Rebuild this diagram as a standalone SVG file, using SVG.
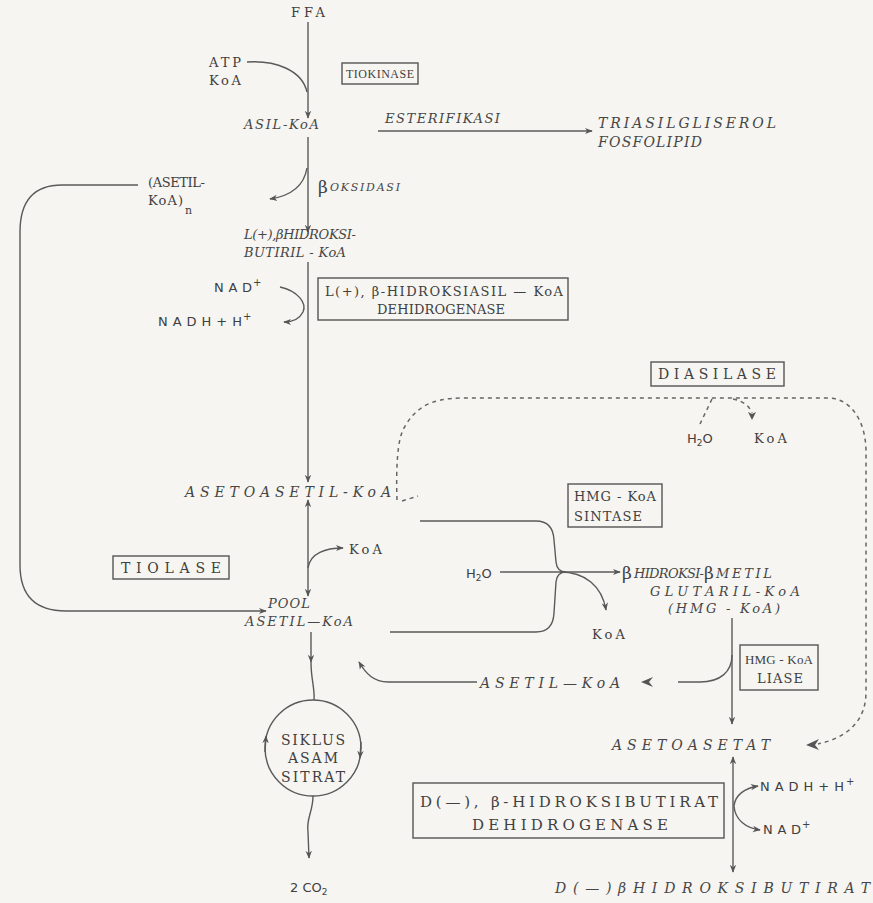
<svg xmlns="http://www.w3.org/2000/svg" width="873" height="903" viewBox="0 0 873 903">
<style>
.t{font-family:"DejaVu Serif","Liberation Serif",serif;font-size:13px;fill:#404040}
.i{font-family:"DejaVu Serif","Liberation Serif",serif;font-size:14px;font-style:italic;fill:#464646}
.s{font-family:"DejaVu Sans","Liberation Sans",sans-serif;font-size:13px;fill:#404040}
.box{fill:none;stroke:#555;stroke-width:1.4}
.ln{fill:none;stroke:#5a5a5a;stroke-width:1.4}
.ar{marker-end:url(#ah)}
.dash{fill:none;stroke:#666;stroke-width:1.5;stroke-dasharray:4 4}
</style>
<defs>
<marker id="ah" viewBox="0 0 10 10" refX="9" refY="5" markerWidth="8" markerHeight="8" orient="auto-start-reverse" markerUnits="userSpaceOnUse">
<path d="M0,1 L10,5 L0,9 L3,5 Z" fill="#555"/>
</marker>
</defs>
<rect width="873" height="903" fill="#f6f5f1"/>

<g id="connectors">
<line class="ln ar" x1="308" y1="22" x2="308" y2="118"/>
<path class="ln" d="M247,62 C275,60 302,70 307,92"/>
<line class="ln ar" x1="378" y1="131" x2="592" y2="131"/>
<line class="ln ar" x1="308" y1="137" x2="308" y2="232"/>
<path class="ln ar" d="M307,168 C304,186 290,196 270,199"/>
<line class="ln ar" x1="308" y1="262" x2="308" y2="482"/>
<path class="ln ar" d="M280,287 C298,291 307,303 303,312 C299,320 292,322 284,322"/>
<path class="ln ar" d="M138,185 L62,185 Q20,185 20,232 L20,565 Q20,611 66,611 L266,611"/>
<line class="ln" x1="308" y1="500" x2="308" y2="596" marker-start="url(#ah)" marker-end="url(#ah)"/>
<path class="ln ar" d="M308,568 C310,553 326,548 343,548"/>
<path class="ln" d="M420,521 L536,521 Q553,521 554,540 L556,562 Q557,572 566,572"/>
<path class="ln" d="M390,632 L536,632 Q553,632 554,613 L556,582 Q557,572 566,572"/>
<line class="ln ar" x1="500" y1="572" x2="620" y2="572"/>
<path class="ln ar" d="M560,572 C585,572 602,586 606,610"/>
<line class="ln ar" x1="732" y1="618" x2="732" y2="724"/>
<path class="ln" d="M732,655 C732,672 720,682 700,682 L678,682"/>
<path d="M653,677 L641,682 L653,687 L649,682 Z" fill="#555"/>
<path class="ln ar" d="M477,682 L388,682 C374,682 366,674 359,662"/>
<line class="ln" x1="733" y1="757" x2="733" y2="872" marker-start="url(#ah)" marker-end="url(#ah)"/>
<path class="ln ar" d="M734,806 C735,795 745,788 758,786"/>
<path class="ln ar" d="M734,806 C735,820 746,828 760,830"/>
<line class="ln ar" x1="311" y1="632" x2="311" y2="662"/>
<path class="ln" d="M311,662 C311,680 315,688 314,700"/>
<circle class="ln" cx="313" cy="748" r="48"/>
<path class="ln ar" d="M265,752 L266,736"/>
<path class="ln ar" d="M361,742 L360,758"/>
<path class="ln ar" d="M313,796 C313,812 306,818 308,832 L309,858"/>
<path class="dash" d="M397,500 C396,470 397,440 404,428 C414,410 428,398 462,398 L828,398 C850,398 866,420 866,452 L866,692 C866,722 846,738 818,744"/>
<path d="M819,739 L806,745 L819,750 L815,745 Z" fill="#555"/>
<path class="dash" d="M712,399 L700,424"/>
<path class="dash" d="M733,399 C744,401 750,407 752,413"/>
<path d="M748,412 L752,420 L756,412 L752,414 Z" fill="#555"/>
<path class="dash" d="M402,501 L418,496"/>
</g>

<g id="ffa"><text class="t" x="291" y="17" textLength="34">FFA</text></g>
<g id="atp"><text class="t" x="209" y="67" textLength="32">ATP</text><text class="t" x="209" y="85" textLength="32">KoA</text></g>
<g id="tiokinase"><rect class="box" x="342" y="63" width="76" height="21"/><text class="t" x="346" y="78" style="font-size:12px;font-family:'Liberation Serif',serif" textLength="68">TIOKINASE</text></g>
<g id="asilkoa"><text class="i" x="244" y="129" style="font-size:13px" textLength="75">ASIL-KoA</text></g>
<g id="esterifikasi"><text class="i" x="385" y="123" style="font-size:13px" textLength="115">ESTERIFIKASI</text></g>
<g id="triasil"><text class="i" x="598" y="128" textLength="178">TRIASILGLISEROL</text><text class="i" x="598" y="147" textLength="104">FOSFOLIPID</text></g>
<g id="asetilkoan"><text class="t" x="148" y="187" textLength="57">(ASETIL-</text><text class="t" x="148" y="205" textLength="35">KoA)</text><text class="t" x="185" y="214" style="font-size:11px">n</text></g>
<g id="boksidasi"><text class="t" x="318" y="193" style="font-size:17px">β</text><text class="i" x="330" y="191" style="font-size:11px" textLength="70">OKSIDASI</text></g>
<g id="hidroksibutiril"><text class="i" x="244" y="239" style="font-size:13px" textLength="112">L(+),βHIDROKSI-</text><text class="i" x="244" y="257" style="font-size:13px" textLength="102">BUTIRIL - KoA</text></g>
<g id="nad1"><text class="s" x="214" y="292" textLength="38">NAD</text><text class="s" x="253" y="286" style="font-size:10px">+</text><text class="s" x="158" y="326" textLength="84">NADH+H</text><text class="s" x="243" y="320" style="font-size:10px">+</text></g>
<g id="dehidrogenase1"><rect class="box" x="318" y="278" width="250" height="42"/><text class="t" x="325" y="296" textLength="238">L(+), β-HIDROKSIASIL — KoA</text><text class="t" x="377" y="314" textLength="128">DEHIDROGENASE</text></g>
<g id="diasilase"><rect class="box" x="651" y="362" width="133" height="24"/><text class="t" x="658" y="379" style="font-size:14px" textLength="118">DIASILASE</text><text class="s" x="687" y="443">H<tspan dy="3" style="font-size:9px">2</tspan><tspan dy="-3">O</tspan></text><text class="t" x="754" y="443" textLength="33">KoA</text></g>
<g id="asetoasetilkoa"><text class="i" x="185" y="497" textLength="206">ASETOASETIL-KoA</text></g>
<g id="koa1"><text class="t" x="349" y="554" textLength="33">KoA</text></g>
<g id="tiolase"><rect class="box" x="113" y="556" width="116" height="23"/><text class="t" x="121" y="573" style="font-size:14px" textLength="100">TIOLASE</text></g>
<g id="hmgsintase"><rect class="box" x="568" y="484" width="94" height="43"/><text class="t" x="574" y="501" textLength="82">HMG - KoA</text><text class="t" x="574" y="521" textLength="68">SINTASE</text></g>
<g id="h2o2"><text class="s" x="466" y="578">H<tspan dy="3" style="font-size:9px">2</tspan><tspan dy="-3">O</tspan></text></g>
<g id="hmgkoa"><text class="t" x="622" y="579" style="font-size:17px">β</text><text class="i" x="634" y="578" style="font-size:13px" textLength="70">HIDROKSI-</text><text class="t" x="704" y="579" style="font-size:17px">β</text><text class="i" x="716" y="578" style="font-size:13px" textLength="56">METIL</text><text class="i" x="650" y="596" style="font-size:13px" textLength="150">GLUTARIL-KoA</text><text class="i" x="668" y="613" style="font-size:13px" textLength="112">(HMG - KoA)</text></g>
<g id="koa2"><text class="t" x="592" y="639" textLength="33">KoA</text></g>
<g id="pool"><text class="i" x="268" y="608" style="font-size:13px" textLength="42">POOL</text><text class="i" x="245" y="626" style="font-size:13px" textLength="108">ASETIL—KoA</text></g>
<g id="hmgliase"><rect class="box" x="740" y="645" width="78" height="45"/><text class="t" x="745" y="664" style="font-family:'Liberation Serif',serif" textLength="68">HMG - KoA</text><text class="t" x="757" y="683" textLength="46">LIASE</text></g>
<g id="asetilkoa2"><text class="i" x="480" y="688" textLength="140">ASETIL—KoA</text></g>
<g id="asetoasetat"><text class="i" x="612" y="750" textLength="158">ASETOASETAT</text></g>
<g id="nad2"><text class="s" x="760" y="791" textLength="84">NADH+H</text><text class="s" x="846" y="785" style="font-size:10px">+</text><text class="s" x="763" y="834" textLength="38">NAD</text><text class="s" x="802" y="828" style="font-size:10px">+</text></g>
<g id="dehidrogenase2"><rect class="box" x="413" y="783" width="311" height="55"/><text class="t" x="420" y="807" style="font-size:15px" textLength="298">D(—), β-HIDROKSIBUTIRAT</text><text class="t" x="472" y="830" style="font-size:15px" textLength="196">DEHIDROGENASE</text></g>
<g id="hidroksibutirat"><text class="i" x="555" y="893" textLength="315">D(—)βHIDROKSIBUTIRAT</text></g>
<g id="siklus"><text class="t" x="281" y="745" style="font-size:14px" textLength="64">SIKLUS</text><text class="t" x="288" y="763" style="font-size:14px" textLength="50">ASAM</text><text class="t" x="281" y="782" style="font-size:14px" textLength="64">SITRAT</text></g>
<g id="co2"><text class="s" x="290" y="892">2 CO<tspan dy="3" style="font-size:9px">2</tspan></text></g>
</svg>
